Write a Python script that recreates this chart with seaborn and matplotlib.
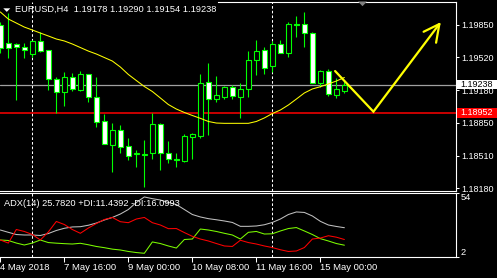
import numpy as np
import pandas as pd
import matplotlib
matplotlib.use("Agg")
import matplotlib.pyplot as plt
import matplotlib.transforms as mtransforms
from matplotlib.patches import Rectangle, Polygon
import seaborn as sns

# ---------------- data ----------------
symbol_title = "EURUSD,H4  1.19178 1.19290 1.19154 1.19238"
adx_title = "ADX(14) 25.7820 +DI:11.4392 -DI:16.0993"

open_ = [1.19847, 1.19660, 1.19653, 1.19619, 1.19548, 1.19684, 1.19592, 1.19293, 1.19166, 1.19313,
         1.19183, 1.19347, 1.19109, 1.18864, 1.18622, 1.18775, 1.18612, 1.18525, 1.18520, 1.18543,
         1.18836, 1.18537, 1.18476, 1.18462, 1.18707, 1.18714, 1.19265, 1.19088, 1.19115, 1.19211,
         1.19115, 1.19190, 1.19490, 1.19592, 1.19431, 1.19653, 1.19564, 1.19857, 1.19857, 1.19762,
         1.19258, 1.19377, 1.19132, 1.19178]
high = [1.19877, 1.19966, 1.19660, 1.19660, 1.19694, 1.19772, 1.19592, 1.19313, 1.19370, 1.19354,
        1.19380, 1.19347, 1.19319, 1.18938, 1.18843, 1.18826, 1.18696, 1.18571, 1.18673, 1.18952,
        1.18843, 1.18666, 1.18537, 1.18734, 1.18747, 1.19347, 1.19456, 1.19326, 1.19224, 1.19234,
        1.19252, 1.19581, 1.19694, 1.19625, 1.19687, 1.19694, 1.19880, 1.19939, 1.19983, 1.19772,
        1.19387, 1.19395, 1.19306, 1.19290]
low = [1.19561, 1.19507, 1.19081, 1.19507, 1.19523, 1.19574, 1.19183, 1.18952, 1.19020, 1.19176,
       1.19176, 1.19064, 1.18803, 1.18627, 1.18349, 1.18537, 1.18469, 1.18400, 1.18196, 1.18476,
       1.18367, 1.18435, 1.18400, 1.18451, 1.18476, 1.18690, 1.18724, 1.19064, 1.19091, 1.19091,
       1.18894, 1.19115, 1.19336, 1.19347, 1.19370, 1.19558, 1.19517, 1.19727, 1.19625, 1.19258,
       1.19217, 1.19122, 1.19099, 1.19154]
close = [1.19609, 1.19609, 1.19619, 1.19592, 1.19684, 1.19585, 1.19293, 1.19166, 1.19313, 1.19190,
         1.19347, 1.19109, 1.18860, 1.18632, 1.18775, 1.18605, 1.18513, 1.18535, 1.18530, 1.18836,
         1.18537, 1.18476, 1.18471, 1.18714, 1.18731, 1.19252, 1.19088, 1.19132, 1.19211, 1.19125,
         1.19190, 1.19490, 1.19581, 1.19405, 1.19653, 1.19564, 1.19857, 1.19852, 1.19762, 1.19258,
         1.19377, 1.19142, 1.19190, 1.19238]
ma = [1.19980, 1.19908, 1.19867, 1.19826, 1.19796, 1.19765, 1.19735, 1.19704, 1.19684, 1.19653,
      1.19617, 1.19581, 1.19551, 1.19515, 1.19479, 1.19418, 1.19342, 1.19280, 1.19219, 1.19168,
      1.19102, 1.19035, 1.18989, 1.18954, 1.18923, 1.18894, 1.18862, 1.18846, 1.18843, 1.18843,
      1.18843, 1.18843, 1.18862, 1.18898, 1.18943, 1.18979, 1.19030, 1.19091, 1.19153, 1.19194,
      1.19217, 1.19245, 1.19275, 1.19311]
adx = [23.9, 22.0, 20.2, 19.8, 19.8, 19.4, 21.0, 23.5, 25.3, 26.4,
       26.6, 27.8, 29.6, 32.1, 34.2, 37.0, 40.7, 46.5, 51.0, 49.6,
       48.5, 46.5, 44.8, 40.7, 36.6, 34.6, 33.2, 32.3, 31.3, 30.1,
       26.9, 26.9, 27.2, 28.2, 30.1, 32.9, 36.6, 38.7, 38.3, 35.4,
       31.0, 28.0, 26.8, 25.78]
plus_di = [15.7, 15.3, 13.2, 11.6, 13.2, 15.7, 13.6, 13.1, 12.7, 12.4,
           13.0, 11.8, 10.4, 9.4, 8.2, 7.5, 6.3, 5.4, 4.8, 14.1,
           12.8, 10.8, 9.1, 16.1, 16.5, 24.7, 23.9, 22.7, 21.2, 19.8,
           16.5, 22.0, 22.7, 20.6, 20.8, 23.1, 25.1, 25.9, 23.1, 20.2,
           16.8, 14.9, 12.8, 11.44]
minus_di = [15.7, 13.2, 24.3, 22.7, 20.2, 15.7, 22.3, 30.9, 28.4, 24.3,
            21.2, 25.5, 29.2, 32.5, 34.2, 30.7, 29.9, 32.9, 34.2, 29.9,
            28.0, 25.0, 25.1, 21.8, 18.7, 16.5, 14.9, 12.8, 10.8, 10.4,
            15.5, 13.6, 12.4, 10.8, 9.5, 7.7, 6.3, 6.7, 9.5, 16.5,
            17.3, 19.2, 18.0, 16.10]

time_labels = ["4 May 2018", "7 May 16:00", "9 May 00:00", "10 May 08:00", "11 May 16:00", "15 May 00:00"]
label_bars = [0, 8, 16, 24, 32, 40]
separator_bars = [4, 34]
price_ticks = [1.19850, 1.19520, 1.19180, 1.18850, 1.18510, 1.18180]
adx_ticks = [2, 54]
last_price = 1.19238
level_price = 1.18952
arrow_x = [41.84, 46.63, 54.87]
arrow_y = [1.19377, 1.18962, 1.19857]
arrow_head_x = [52.9, 54.87, 54.46]
arrow_head_y = [1.19778, 1.19857, 1.19666]

# ---------------- style ----------------
sns.set_theme(style="dark", rc={"axes.facecolor": "black", "figure.facecolor": "black",
                                "axes.edgecolor": "white", "axes.grid": False})
plt.rcParams["font.family"] = ["Liberation Sans", "DejaVu Sans"]

W, H = 497, 278
fig = plt.figure(figsize=(W / 100, H / 100), dpi=100, facecolor="black")
ax = fig.add_axes([0, (H - 191) / H, 455.6 / W, 189.5 / H])
ax2 = fig.add_axes([0, (H - 256.7) / H, 455.6 / W, 63.4 / H])

df = pd.DataFrame({"open": open_, "high": high, "low": low, "close": close, "ma": ma})
df["bar"] = np.arange(len(df))
bull = df["close"] >= df["open"]

GREEN = "#00FF00"
# wicks
ax.vlines(df["bar"], df["low"], df["high"], color=GREEN, lw=0.8, zorder=2)
# bodies
ax.bar(df["bar"], (df["close"] - df["open"]).abs(), bottom=np.minimum(df["open"], df["close"]),
       width=0.6, color=np.where(bull, "black", "white"), edgecolor=GREEN, linewidth=0.8, zorder=3)

sns.lineplot(data=df, x="bar", y="ma", ax=ax, color="#FFFF00", lw=0.75, zorder=4)

ax.axhline(last_price, color="#A0A0A0", lw=0.9, zorder=1)
ax.axhline(level_price, color="#FF0000", lw=1.1, zorder=1)
for b in separator_bars:
    ax.axvline(b, color="white", lw=0.75, ls=(0, (2.5, 2)), zorder=1)
    ax2.axvline(b, color="white", lw=0.75, ls=(0, (2.5, 2)), zorder=1)

ax.plot(arrow_x, arrow_y, color="#FFFF00", lw=1.6, zorder=5, solid_joinstyle="miter")
ax.plot(arrow_head_x, arrow_head_y, color="#FFFF00", lw=1.6, zorder=5)

ax.set_xlim(-0.04, 56.9)
ax.set_ylim(1.18152, 1.20087)
ax.set_xticks([])
ax.set_xlabel("")
ax.set_ylabel("")
ax.yaxis.tick_right()
ax.set_yticks(price_ticks)
ax.set_yticklabels([f"{p:.5f}" for p in price_ticks])
ax.tick_params(axis="y", colors="white", labelcolor="white", length=2.4, width=0.75,
               pad=1.5, labelsize=6.5, direction="out", right=True, left=False)
ax.spines["left"].set_visible(False)
for s in ["right", "top", "bottom"]:
    ax.spines[s].set_color("white")
    ax.spines[s].set_linewidth(0.8)
ax.spines["top"].set_bounds(27.2, 56.9)

# price labels on axis
blend = mtransforms.blended_transform_factory(ax.transAxes, ax.transData)
ax.add_patch(Rectangle((1.0 + 1.0 / 455.6, last_price - 0.00047), 42 / 455.6, 0.00094,
                       transform=blend, clip_on=False, facecolor="white", edgecolor="none", zorder=6))
ax.text(1.0 + 5.0 / 455.6, last_price, f"{last_price:.5f}", transform=blend, clip_on=False,
        ha="left", va="center", fontsize=6.5, color="black", zorder=7)
ax.add_patch(Rectangle((1.0 + 1.0 / 455.6, level_price - 0.00051), 42 / 455.6, 0.00102,
                       transform=blend, clip_on=False, facecolor="#FF0000", edgecolor="none", zorder=6))
ax.text(1.0 + 5.0 / 455.6, level_price, f"{level_price:.5f}", transform=blend, clip_on=False,
        ha="left", va="center", fontsize=6.5, color="white", zorder=7)

# ---------------- ADX panel ----------------
ind = pd.DataFrame({"bar": df["bar"], "adx": adx, "plus": plus_di, "minus": minus_di})
sns.lineplot(data=ind, x="bar", y="adx", ax=ax2, color="#C0C0C0", lw=0.75)
sns.lineplot(data=ind, x="bar", y="plus", ax=ax2, color="#7CFC00", lw=0.75)
sns.lineplot(data=ind, x="bar", y="minus", ax=ax2, color="#FF0000", lw=0.75)
ax2.set_xlim(-0.04, 56.9)
ax2.set_ylim(2, 54)
ax2.set_xlabel("")
ax2.set_ylabel("")
ax2.yaxis.tick_right()
ax2.set_yticks(adx_ticks)
ax2.set_yticklabels([str(v) for v in adx_ticks])
ax2.tick_params(axis="y", colors="white", labelcolor="white", length=2.4, width=0.75,
                pad=1.5, labelsize=6.7, direction="out", right=True, left=False)
for lbl, va in zip(ax2.get_yticklabels(), ["bottom", "top"]):
    lbl.set_verticalalignment(va)
ax2.set_xticks(label_bars)
ax2.set_xticklabels(time_labels, ha="left")
ax2.tick_params(axis="x", colors="white", labelcolor="white", length=3.6, width=0.75,
                pad=1.0, labelsize=6.8, direction="out", bottom=True)
ax2.spines["left"].set_visible(False)
for s in ["right", "top", "bottom"]:
    ax2.spines[s].set_color("white")
    ax2.spines[s].set_linewidth(0.8)

# ---------------- titles ----------------
fig.text(15 / W, 1 - 9.5 / H, symbol_title, ha="left", va="center", fontsize=6.7, color="white")
fig.add_artist(Polygon([[3.3 / W, 1 - 8.3 / H], [10.3 / W, 1 - 8.3 / H], [6.8 / W, 1 - 11.9 / H]],
                       closed=True, transform=fig.transFigure, facecolor="white", edgecolor="none"))
fig.add_artist(Polygon([[358 / W, 1 - 1.5 / H], [367 / W, 1 - 1.5 / H], [362.5 / W, 1 - 6.2 / H]],
                       closed=True, transform=fig.transFigure, facecolor="#7F7F7F", edgecolor="none"))
fig.text(4 / W, 1 - 203 / H, adx_title, ha="left", va="center", fontsize=6.7, color="white")

fig.savefig("out.png", dpi=100, facecolor="black")
